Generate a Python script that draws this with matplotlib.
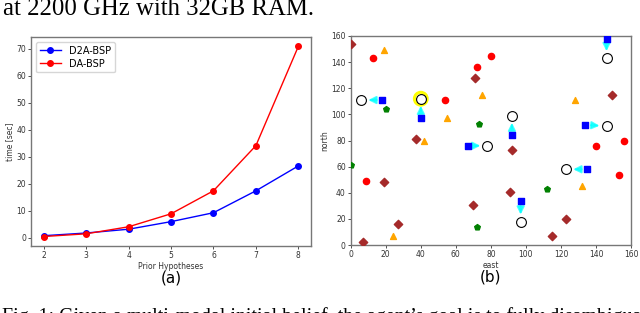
import matplotlib.pyplot as plt
import numpy as np

# (a) planning time vs number of prior hypotheses
hypotheses = [2, 3, 4, 5, 6, 7, 8]
d2a_bsp = [0.8, 1.8, 3.2, 6.0, 9.3, 17.4, 26.6]
da_bsp = [0.5, 1.5, 4.1, 8.9, 17.4, 34.1, 70.8]

# (b) scenario map
red_x = [13, 80, 72, 54, 140, 156, 9, 153]
red_y = [143, 145, 136, 111, 76, 80, 49, 54]
brown_x = [0, 71, 149, 37, 92, 19, 27, 7, 70, 91, 115, 123]
brown_y = [154, 128, 115, 81, 73, 48, 16, 2, 31, 41, 7, 20]
orange_x = [19, 75, 128, 55, 42, 24, 132]
orange_y = [149, 115, 111, 97, 80, 7, 45]
green_x = [20, 73, 0, 72, 112]
green_y = [104, 93, 61, 14, 43]
square_x = [146, 18, 40, 92, 67, 134, 97, 135]
square_y = [158, 111, 97, 84, 76, 92, 34, 58]
circle_x = [146, 6, 40, 92, 78, 146, 97, 123]
circle_y = [143, 111, 112, 99, 76, 91, 18, 58]
chosen = 2  # the highlighted hypothesis

fig = plt.figure(figsize=(6.4, 3.13), dpi=100)

fig.text(0.005, 0.953, "at 2200 GHz with 32GB RAM.", family="Liberation Serif",
         fontsize=17.8, va="baseline")
fig.text(0.003, -0.03, "Fig. 1: Given a multi-modal initial belief, the agent\u2019s goal is to fully disambiguate",
         family="Liberation Serif", fontsize=14.3, va="baseline")

ax1 = fig.add_axes([0.0484, 0.214, 0.4376, 0.668])
ax1.plot(hypotheses, d2a_bsp, "-o", color="blue", markersize=4, linewidth=1, label="D2A-BSP")
ax1.plot(hypotheses, da_bsp, "-o", color="red", markersize=4, linewidth=1, label="DA-BSP")
ax1.set_xlabel("Prior Hypotheses", fontsize=5.5, labelpad=1.5, color="#333333")
ax1.set_ylabel("time [sec]", fontsize=5.5, labelpad=1.5, color="#333333")
ax1.legend(loc="upper left", fontsize=7, handlelength=2.2, borderpad=0.4, labelspacing=0.3)
ax1.text(0.5, -0.115, "(a)", transform=ax1.transAxes, ha="center", va="top", fontsize=11)

ax2 = fig.add_axes([0.548, 0.217, 0.438, 0.668])
ax2.scatter(red_x, red_y, marker="o", color="red", s=20, zorder=3)
ax2.scatter(brown_x, brown_y, marker="D", color="brown", s=18, zorder=3)
ax2.scatter(orange_x, orange_y, marker="^", color="orange", s=18, zorder=3)
ax2.scatter(green_x, green_y, marker="p", color="green", s=18, zorder=3)
ax2.scatter(square_x, square_y, marker="s", color="blue", s=20, zorder=3)
ax2.scatter([circle_x[chosen]], [circle_y[chosen]], marker="o", facecolor="none",
            edgecolor="yellow", linewidths=2.2, s=85, zorder=3)
ax2.scatter(circle_x, circle_y, marker="o", facecolor="white", edgecolor="black",
            linewidths=0.8, s=50, zorder=4)
for sx, sy, cx, cy in zip(square_x, square_y, circle_x, circle_y):
    ax2.annotate("", xy=(cx, cy), xytext=(sx, sy),
                 arrowprops=dict(arrowstyle="-|>", color="cyan", alpha=0.7, lw=1.5,
                                 shrinkA=4, shrinkB=5, mutation_scale=11), zorder=2)
ax2.set_xlim(0, 160)
ax2.set_ylim(0, 160)
ax2.set_xticks(np.arange(0, 161, 20))
ax2.set_yticks(np.arange(0, 161, 20))
ax2.set_xlabel("east", fontsize=5.5, labelpad=1.5, color="#333333")
ax2.set_ylabel("north", fontsize=5.5, labelpad=1.5, color="#333333")
ax2.text(0.5, -0.115, "(b)", transform=ax2.transAxes, ha="center", va="top", fontsize=11)

for ax in (ax1, ax2):
    ax.tick_params(labelsize=5.5, length=2, width=0.6, pad=1.5, colors="#333333")
    for sp in ax.spines.values():
        sp.set_color("#777777")
        sp.set_linewidth(1.0)

fig.savefig("out.png", dpi=100)
